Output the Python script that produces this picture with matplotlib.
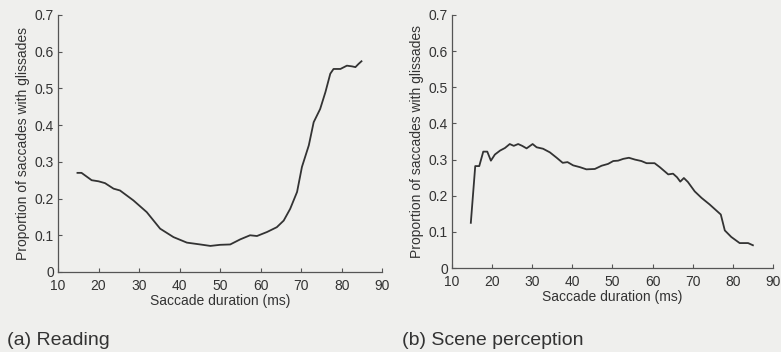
import matplotlib
matplotlib.use("Agg")
import matplotlib.pyplot as plt

plt.rcParams["font.family"] = ["Liberation Sans", "DejaVu Sans"]

# (a) Reading
reading_ms = [14.8, 15.8, 18.3, 20.0, 21.6, 23.7, 25.3, 28.6, 31.9, 35.2, 38.5,
              41.8, 45.1, 47.6, 50.0, 52.5, 55.0, 57.4, 59.1, 61.6, 64.0, 65.7,
              67.3, 69.0, 70.2, 71.9, 73.1, 74.7, 76.0, 77.2, 78.0, 79.7, 81.3,
              82.6, 83.4, 84.2, 84.9]
reading_prop = [0.270, 0.270, 0.250, 0.247, 0.242, 0.227, 0.222, 0.195, 0.163,
                0.118, 0.095, 0.080, 0.075, 0.071, 0.074, 0.075, 0.089, 0.100,
                0.098, 0.109, 0.122, 0.140, 0.172, 0.218, 0.286, 0.345, 0.408,
                0.444, 0.490, 0.540, 0.553, 0.553, 0.562, 0.560, 0.558, 0.567,
                0.574]

# (b) Scene perception
scene_ms = [14.7, 15.8, 16.8, 17.8, 18.8, 19.7, 20.7, 22.0, 23.2, 24.4, 25.4,
            26.5, 27.5, 28.6, 30.1, 31.1, 32.7, 34.4, 36.1, 37.6, 38.8, 40.2,
            41.9, 43.5, 45.6, 47.3, 48.9, 50.2, 51.4, 52.7, 54.1, 55.6, 57.2,
            58.5, 60.5, 61.8, 63.9, 65.1, 66.1, 66.9, 67.8, 68.8, 70.5, 72.2,
            74.2, 75.9, 77.0, 78.0, 79.6, 81.7, 83.8, 85.0]
scene_prop = [0.125, 0.282, 0.282, 0.322, 0.322, 0.297, 0.314, 0.325, 0.332,
              0.343, 0.338, 0.343, 0.338, 0.331, 0.343, 0.334, 0.330, 0.320,
              0.305, 0.291, 0.293, 0.284, 0.279, 0.273, 0.274, 0.283, 0.288,
              0.296, 0.297, 0.302, 0.305, 0.300, 0.296, 0.290, 0.290, 0.279,
              0.259, 0.261, 0.251, 0.239, 0.249, 0.238, 0.212, 0.194, 0.176,
              0.159, 0.148, 0.104, 0.086, 0.069, 0.069, 0.063]

x_ticks = [10, 20, 30, 40, 50, 60, 70, 80, 90]
y_ticks = [0, 0.1, 0.2, 0.3, 0.4, 0.5, 0.6, 0.7]
y_labels = ["0", "0.1", "0.2", "0.3", "0.4", "0.5", "0.6", "0.7"]

bg = "#efefed"
ink = "#333333"

fig = plt.figure(figsize=(7.81, 3.52), dpi=100, facecolor=bg)
ax_a = fig.add_axes([0.0743, 0.2273, 0.415, 0.7301])
ax_b = fig.add_axes([0.5787, 0.2386, 0.411, 0.7188])

for ax, xs, ys in [(ax_a, reading_ms, reading_prop), (ax_b, scene_ms, scene_prop)]:
    ax.set_facecolor(bg)
    ax.plot(xs, ys, color=ink, linewidth=1.3)
    ax.set_xlim(10, 90)
    ax.set_ylim(0, 0.7)
    ax.set_xticks(x_ticks)
    ax.set_yticks(y_ticks)
    ax.set_yticklabels(y_labels)
    ax.spines["top"].set_visible(False)
    ax.spines["right"].set_visible(False)
    for s in ("left", "bottom"):
        ax.spines[s].set_color("#555555")
        ax.spines[s].set_linewidth(0.9)
    ax.tick_params(direction="in", length=3, width=0.8, color="#555555",
                   labelsize=10, labelcolor=ink)
    ax.tick_params(axis="x", pad=5)
    ax.tick_params(axis="y", pad=3)
    ax.set_xlabel("Saccade duration (ms)", fontsize=10, color=ink, labelpad=1)
    ax.set_ylabel("Proportion of saccades with glissades", fontsize=10,
                  color=ink, labelpad=3)

fig.text(0.009, 0.034, "(a) Reading", fontsize=14, color=ink, va="center")
fig.text(0.515, 0.034, "(b) Scene perception", fontsize=14, color=ink, va="center")

fig.savefig("out.png", dpi=100, facecolor=bg)
